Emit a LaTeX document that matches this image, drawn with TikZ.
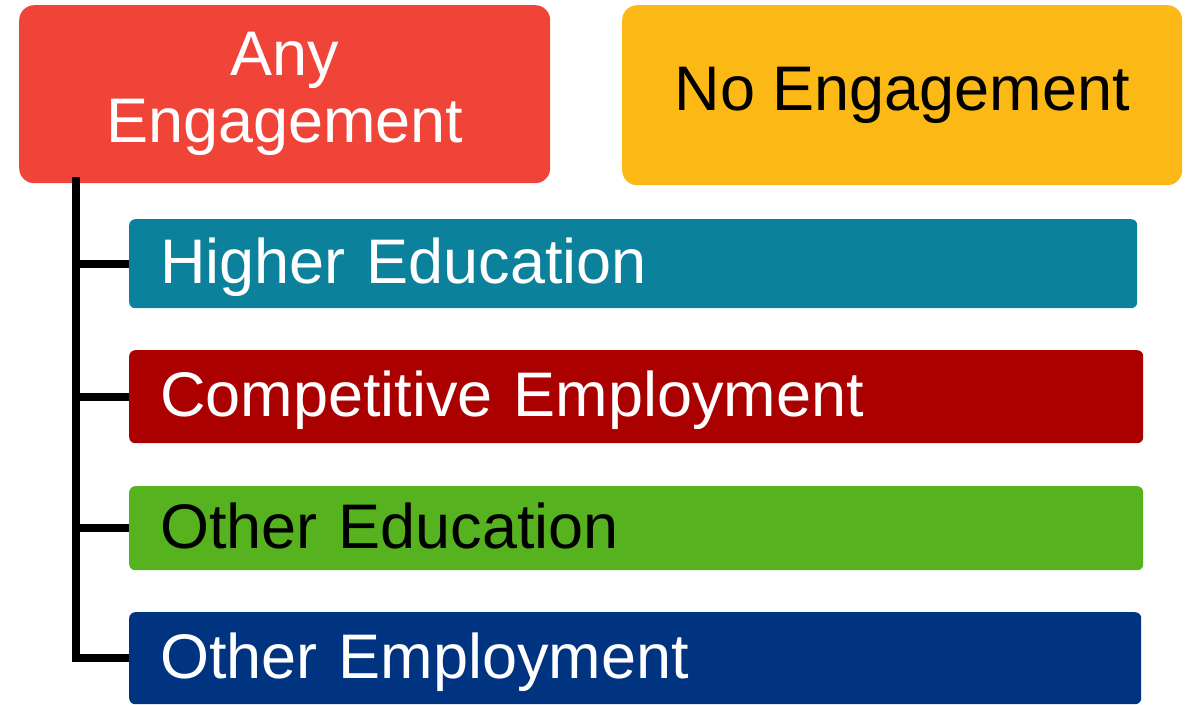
\documentclass[tikz,border=0pt]{standalone}
\usepackage{fontspec}
\setmainfont{Liberation Sans}
\definecolor{cred}{RGB}{240,68,56}
\definecolor{cyel}{RGB}{252,185,22}
\definecolor{cteal}{RGB}{11,129,155}
\definecolor{cdred}{RGB}{170,0,0}
\definecolor{cgreen}{RGB}{86,178,30}
\definecolor{cnavy}{RGB}{0,51,128}
\tikzset{
  topbox/.style={rectangle, rounded corners=15pt, anchor=north west, inner sep=0pt, align=center,
    font=\fontsize{63}{67}\selectfont},
  bar/.style={rectangle, rounded corners=6pt, anchor=north west, inner xsep=31pt, inner ysep=0pt,
    align=left, text=white, text height=46pt, text depth=6pt,
    font=\fontsize{63}{64}\selectfont},
  trunk/.style={line width=8pt, black, line join=miter}
}
\begin{document}
\begin{tikzpicture}[x=1pt,y=-1pt]
\useasboundingbox (0,0) rectangle (1191,704);
\node[topbox, fill=cred, text=white, minimum width=531pt, minimum height=178pt] (any) at (19,5) {Any\\Engagement};
\node[topbox, fill=cyel, text=black, minimum width=560pt, minimum height=180pt] (no) at (622,5) {No Engagement};
\node[bar, fill=cteal, text width=946pt, minimum height=89pt] (hi) at (129,219) {Higher Education};
\node[bar, fill=cdred, text width=952pt, minimum height=93pt] (ce) at (129,350) {Competitive Employment};
\node[bar, fill=cgreen, text=black, text width=952pt, minimum height=84pt] (oed) at (129,486) {Other Education};
\node[bar, fill=cnavy, text width=950pt, minimum height=92pt] (oem) at (129,612) {Other Employment};
\coordinate (top) at (76,177);
\draw[trunk] (top) |- (oem.west);
\draw[trunk] (top |- hi.west) -- (hi.west);
\draw[trunk] (top |- ce.west) -- (ce.west);
\draw[trunk] (top |- oed.west) -- (oed.west);
\end{tikzpicture}
\end{document}
